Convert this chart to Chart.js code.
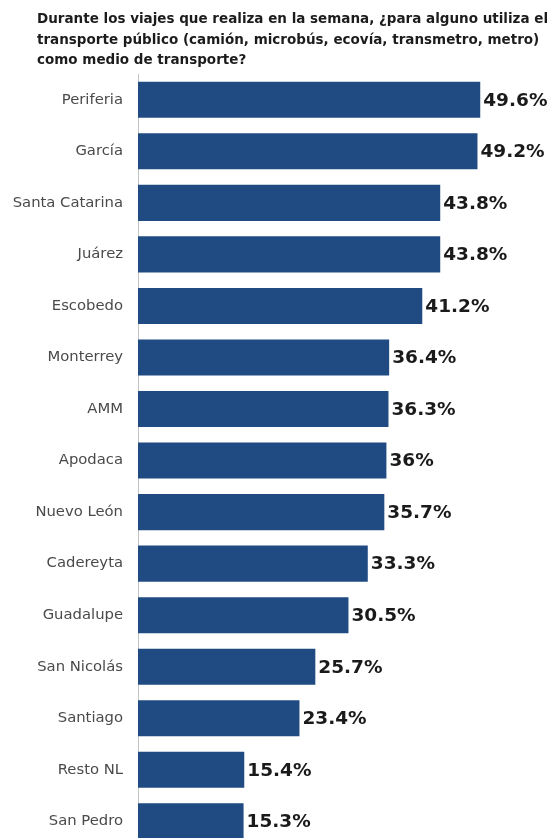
<!DOCTYPE html>
<html lang="es">
<head>
<meta charset="utf-8">
<title>Uso de transporte público por municipio</title>
<script src="https://cdn.jsdelivr.net/npm/chart.js@4.4.1/dist/chart.umd.min.js"></script>
<style>
  html, body { margin: 0; padding: 0; background: #ffffff; overflow: hidden; }
  #wrap { width: 558px; height: 838px; overflow: hidden; position: relative; }
  canvas { display: block; }
</style>
</head>
<body>
<div id="wrap"><canvas id="chart" width="558" height="871"></canvas></div>
<script>
// Municipios y porcentaje que usa transporte público
const municipios = [
  'Periferia', 'García', 'Santa Catarina', 'Juárez', 'Escobedo',
  'Monterrey', 'AMM', 'Apodaca', 'Nuevo León', 'Cadereyta',
  'Guadalupe', 'San Nicolás', 'Santiago', 'Resto NL', 'San Pedro'
];
const porcentajes = [49.6, 49.2, 43.8, 43.8, 41.2, 36.4, 36.3, 36, 35.7, 33.3, 30.5, 25.7, 23.4, 15.4, 15.3];

const tituloLineas = [
  'Durante los viajes que realiza en la semana, ¿para alguno utiliza el',
  'transporte público (camión, microbús, ecovía, transmetro, metro)',
  'como medio de transporte?'
];

const FONT = '"DejaVu Sans", Verdana, sans-serif';

// Title block drawn in the top margin
const tituloPlugin = {
  id: 'titulo',
  afterDraw(chart) {
    const ctx = chart.ctx;
    ctx.save();
    ctx.fillStyle = '#1c1c1c';
    ctx.font = 'bold 13.5px ' + FONT;
    ctx.textAlign = 'left';
    ctx.textBaseline = 'alphabetic';
    const bases = [23, 43.5, 64];
    tituloLineas.forEach((t, i) => ctx.fillText(t, 37, bases[i]));
    ctx.restore();
  }
};

// Percentage written right after the end of each bar
const valoresPlugin = {
  id: 'valores',
  afterDatasetsDraw(chart) {
    const ctx = chart.ctx;
    const meta = chart.getDatasetMeta(0);
    ctx.save();
    ctx.fillStyle = '#1a1a1a';
    ctx.font = 'bold 18.5px ' + FONT;
    ctx.textAlign = 'left';
    ctx.textBaseline = 'middle';
    meta.data.forEach((bar, i) => {
      ctx.fillText(porcentajes[i] + '%', bar.x + 3, bar.y + 1);
    });
    ctx.restore();
  }
};

new Chart(document.getElementById('chart'), {
  type: 'bar',
  data: {
    labels: municipios,
    datasets: [{
      data: porcentajes,
      backgroundColor: '#1f4b82',
      borderWidth: 0,
      categoryPercentage: 0.7,
      barPercentage: 1.0
    }]
  },
  options: {
    indexAxis: 'y',
    responsive: false,
    animation: false,
    layout: { padding: { top: 74, right: 6, bottom: 0, left: 0 } },
    plugins: {
      legend: { display: false },
      tooltip: { enabled: false },
      title: { display: false }
    },
    scales: {
      x: {
        display: false,
        min: 0,
        max: 60
      },
      y: {
        afterFit(scale) { scale.width = 138; },
        grid: { display: false, drawTicks: false },
        border: { display: true, color: '#c4c4c4', width: 1 },
        ticks: {
          color: '#4a4a4a',
          padding: 15,
          font: { family: FONT, size: 14.8 }
        }
      }
    }
  },
  plugins: [tituloPlugin, valoresPlugin]
});
</script>
</body>
</html>
